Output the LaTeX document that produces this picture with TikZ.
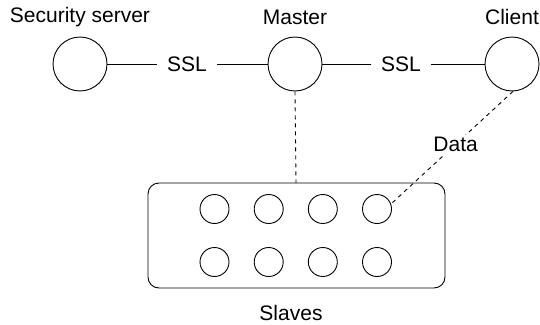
\documentclass[tikz,border=0pt]{standalone}
\usepackage{fontspec}
\setmainfont{Liberation Sans}
\begin{document}
\begin{tikzpicture}[x=1pt,y=-1pt,
  every node/.style={font=\fontsize{21}{25}\selectfont},
  big/.style={circle,draw,line width=0.9pt,minimum size=54pt,inner sep=0pt},
  small/.style={circle,draw,line width=0.9pt,minimum size=29pt,inner sep=0pt},
  lbl/.style={inner sep=0pt},
  link/.style={line width=0.9pt},
  dlink/.style={line width=0.9pt,dash pattern=on 4pt off 4pt}]
\useasboundingbox (0,0) rectangle (540,324);
\node[big] (sec) at (80,64) {};
\node[big] (mas) at (295,64) {};
\node[big] (cli) at (512,64) {};
\node[lbl] (tsec) at (80,17) {Security server};
\node[lbl] (tmas) at (295,17) {Master};
\node[lbl] (tcli) at (512,17) {Client};
\node[lbl] (ssl1) at (187,64) {SSL};
\node[lbl] (ssl2) at (401,64) {SSL};
\draw[link] (sec) -- ([xshift=-10pt]ssl1.west);
\draw[link] ([xshift=10pt]ssl1.east) -- (mas);
\draw[link] (mas) -- ([xshift=-10pt]ssl2.west);
\draw[link] ([xshift=10pt]ssl2.east) -- (cli);
\draw[link,rounded corners=11pt] (148,183) rectangle (445,288);
\coordinate (boxtop) at (296,183);
\foreach \i/\x in {1/214.5,2/268.7,3/322.8,4/377}{
  \node[small] (a\i) at (\x,209) {};
  \node[small] (b\i) at (\x,262) {};
}
\node[lbl] (slaves) at (291,313) {Slaves};
\draw[dlink] (mas.south) -- (boxtop);
\draw[dlink] (cli.-88) -- (a4.20) node[pos=0.47,fill=white,inner sep=2pt] (data) {Data};
\end{tikzpicture}
\end{document}
